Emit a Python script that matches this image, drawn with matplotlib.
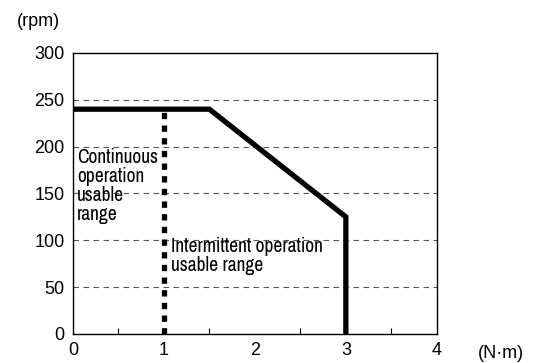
import matplotlib
matplotlib.use("Agg")
import matplotlib.pyplot as plt
from matplotlib import font_manager

# Torque / speed limits
torque = [0, 1.5, 3, 3]
speed = [240, 240, 125, 0]
cont_torque = [1, 1]
cont_speed = [0, 240]

x_ticks = [0, 1, 2, 3, 4]
y_ticks = [0, 50, 100, 150, 200, 250, 300]
grid_levels = [50, 100, 150, 200, 250]

names = {f.name for f in font_manager.fontManager.ttflist}
if "Archivo Narrow" in names:
    narrow = dict(family="Archivo Narrow", fontsize=14)
else:
    narrow = dict(family="DejaVu Sans", fontstretch="condensed", fontsize=11)
plt.rcParams["font.family"] = ["Liberation Sans", "DejaVu Sans"]

fig = plt.figure(figsize=(5.36, 3.63), dpi=100)
ax = fig.add_axes([0.136, 0.080, 0.679, 0.774])

for lv in grid_levels:
    ax.axhline(lv, color="#555555", lw=0.8, ls=(0, (5, 4)), zorder=1)

ax.plot(torque, speed, color="black", lw=3.8, solid_joinstyle="miter", zorder=3)
ax.plot(cont_torque, cont_speed, color="black", lw=3.8, ls=(0, (1.2, 1.2)),
        dash_capstyle="butt", zorder=3)

ax.set_xlim(0, 4)
ax.set_ylim(0, 300)
ax.set_xticks(x_ticks)
ax.set_yticks(y_ticks)
ax.tick_params(axis="both", length=0, labelsize=13, pad=6)
ax.set_xticks([0.5, 1.5, 2.5, 3.5], minor=True)
ax.tick_params(axis="x", which="minor", direction="in", length=4, width=0.8)
ax.tick_params(axis="y", which="minor", length=0)
for s in ax.spines.values():
    s.set_linewidth(1.0)

ax.text(0.044, 199, "Continuous\noperation\nusable\nrange", **narrow,
        va="top", ha="left", linespacing=1.0)
ax.text(1.08, 103, "Intermittent operation\nusable range", **narrow,
        va="top", ha="left", linespacing=1.0)

fig.text(38 / 536, 1 - 22 / 363, "(rpm)", fontsize=13, ha="center", va="center")
fig.text(501 / 536, 1 - 353 / 363, "(N\u00b7m)", fontsize=13, ha="center", va="center")

fig.savefig("out.png", dpi=100)
